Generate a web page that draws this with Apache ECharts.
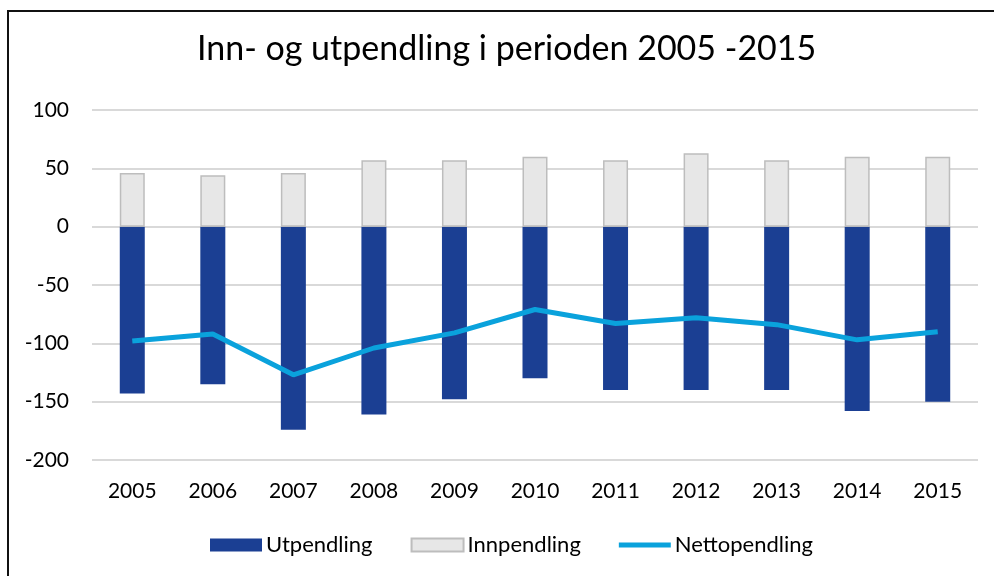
<!DOCTYPE html>
<html>
<head>
<meta charset="utf-8">
<script src="https://cdn.jsdelivr.net/npm/echarts@6/dist/echarts.min.js"></script>
<style>
  html, body { margin: 0; padding: 0; background: #fff; }
  #main { width: 994px; height: 576px; }
</style>
</head>
<body>
<div id="main"></div>
<script>
var years = ['2005','2006','2007','2008','2009','2010','2011','2012','2013','2014','2015'];
var utpendling = [-143,-135,-174,-161,-148,-130,-140,-140,-140,-158,-150];
var innpendling = [46,44,46,57,57,60,57,63,57,60,60];
var nettopendling = [-98,-92,-127,-104,-91,-71,-83,-78,-84,-97,-90];

var font = 'Lato, "Open Sans", sans-serif';
// thin line icon for legend (the tiny end pieces keep the box 52x13)
var lineIcon = 'path://M0,0 L52,0 L52,0.01 Z M0,4 L52,4 L52,9 L0,9 Z M0,13 L52,13 L52,13.01 Z';
var myChart = echarts.init(document.getElementById('main'));
var option = {
    backgroundColor: '#fff',
    textStyle: { fontFamily: font },
    title: {
        text: 'Inn- og utpendling i perioden 2005 -2015',
        left: 197,
        top: 32,
        padding: 0,
        textStyle: { fontFamily: font, fontSize: 34, fontWeight: 'normal', color: '#000' }
    },
    graphic: [{
        type: 'rect',
        shape: { x: 8, y: 11, width: 1000, height: 600 },
        style: { fill: 'none', stroke: '#111', lineWidth: 2 },
        silent: true
    }],
    legend: {
        bottom: 20,
        left: 210,
        padding: 0,
        itemWidth: 52,
        itemHeight: 13,
        itemGap: 38,
        textStyle: { fontFamily: font, fontSize: 22, color: '#000', padding: [0, 0, 0, -1] },
        data: [
            { name: 'Utpendling', icon: 'rect' },
            { name: 'Innpendling', icon: 'rect' },
            { name: 'Nettopendling', icon: lineIcon }
        ]
    },
    grid: { left: 92, right: 16, top: 110, bottom: 116, containLabel: false },
    xAxis: {
        type: 'category',
        data: years,
        axisLine: { show: false },
        axisTick: { show: false },
        axisLabel: { fontFamily: font, fontSize: 21, color: '#000', margin: 21 }
    },
    yAxis: {
        type: 'value',
        min: -200,
        max: 100,
        interval: 50,
        axisLine: { show: false },
        axisTick: { show: false },
        axisLabel: { fontFamily: font, fontSize: 21, color: '#000', margin: 23 },
        splitLine: { lineStyle: { color: '#d9d9d9', width: 2 } }
    },
    series: [
        {
            name: 'Utpendling',
            type: 'bar',
            stack: 'pend',
            barWidth: 25,
            itemStyle: { color: '#1b3f93' },
            data: utpendling
        },
        {
            name: 'Innpendling',
            type: 'bar',
            stack: 'pend',
            barWidth: 25,
            itemStyle: { color: '#e7e7e7', borderColor: '#bdbdbd', borderWidth: 1.5 },
            data: innpendling
        },
        {
            name: 'Nettopendling',
            type: 'line',
            symbol: 'none',
            lineStyle: { color: '#0aa2dc', width: 5 },
            itemStyle: { color: '#0aa2dc' },
            data: nettopendling
        }
    ]
};
myChart.setOption(option, true);
</script>
</body>
</html>
